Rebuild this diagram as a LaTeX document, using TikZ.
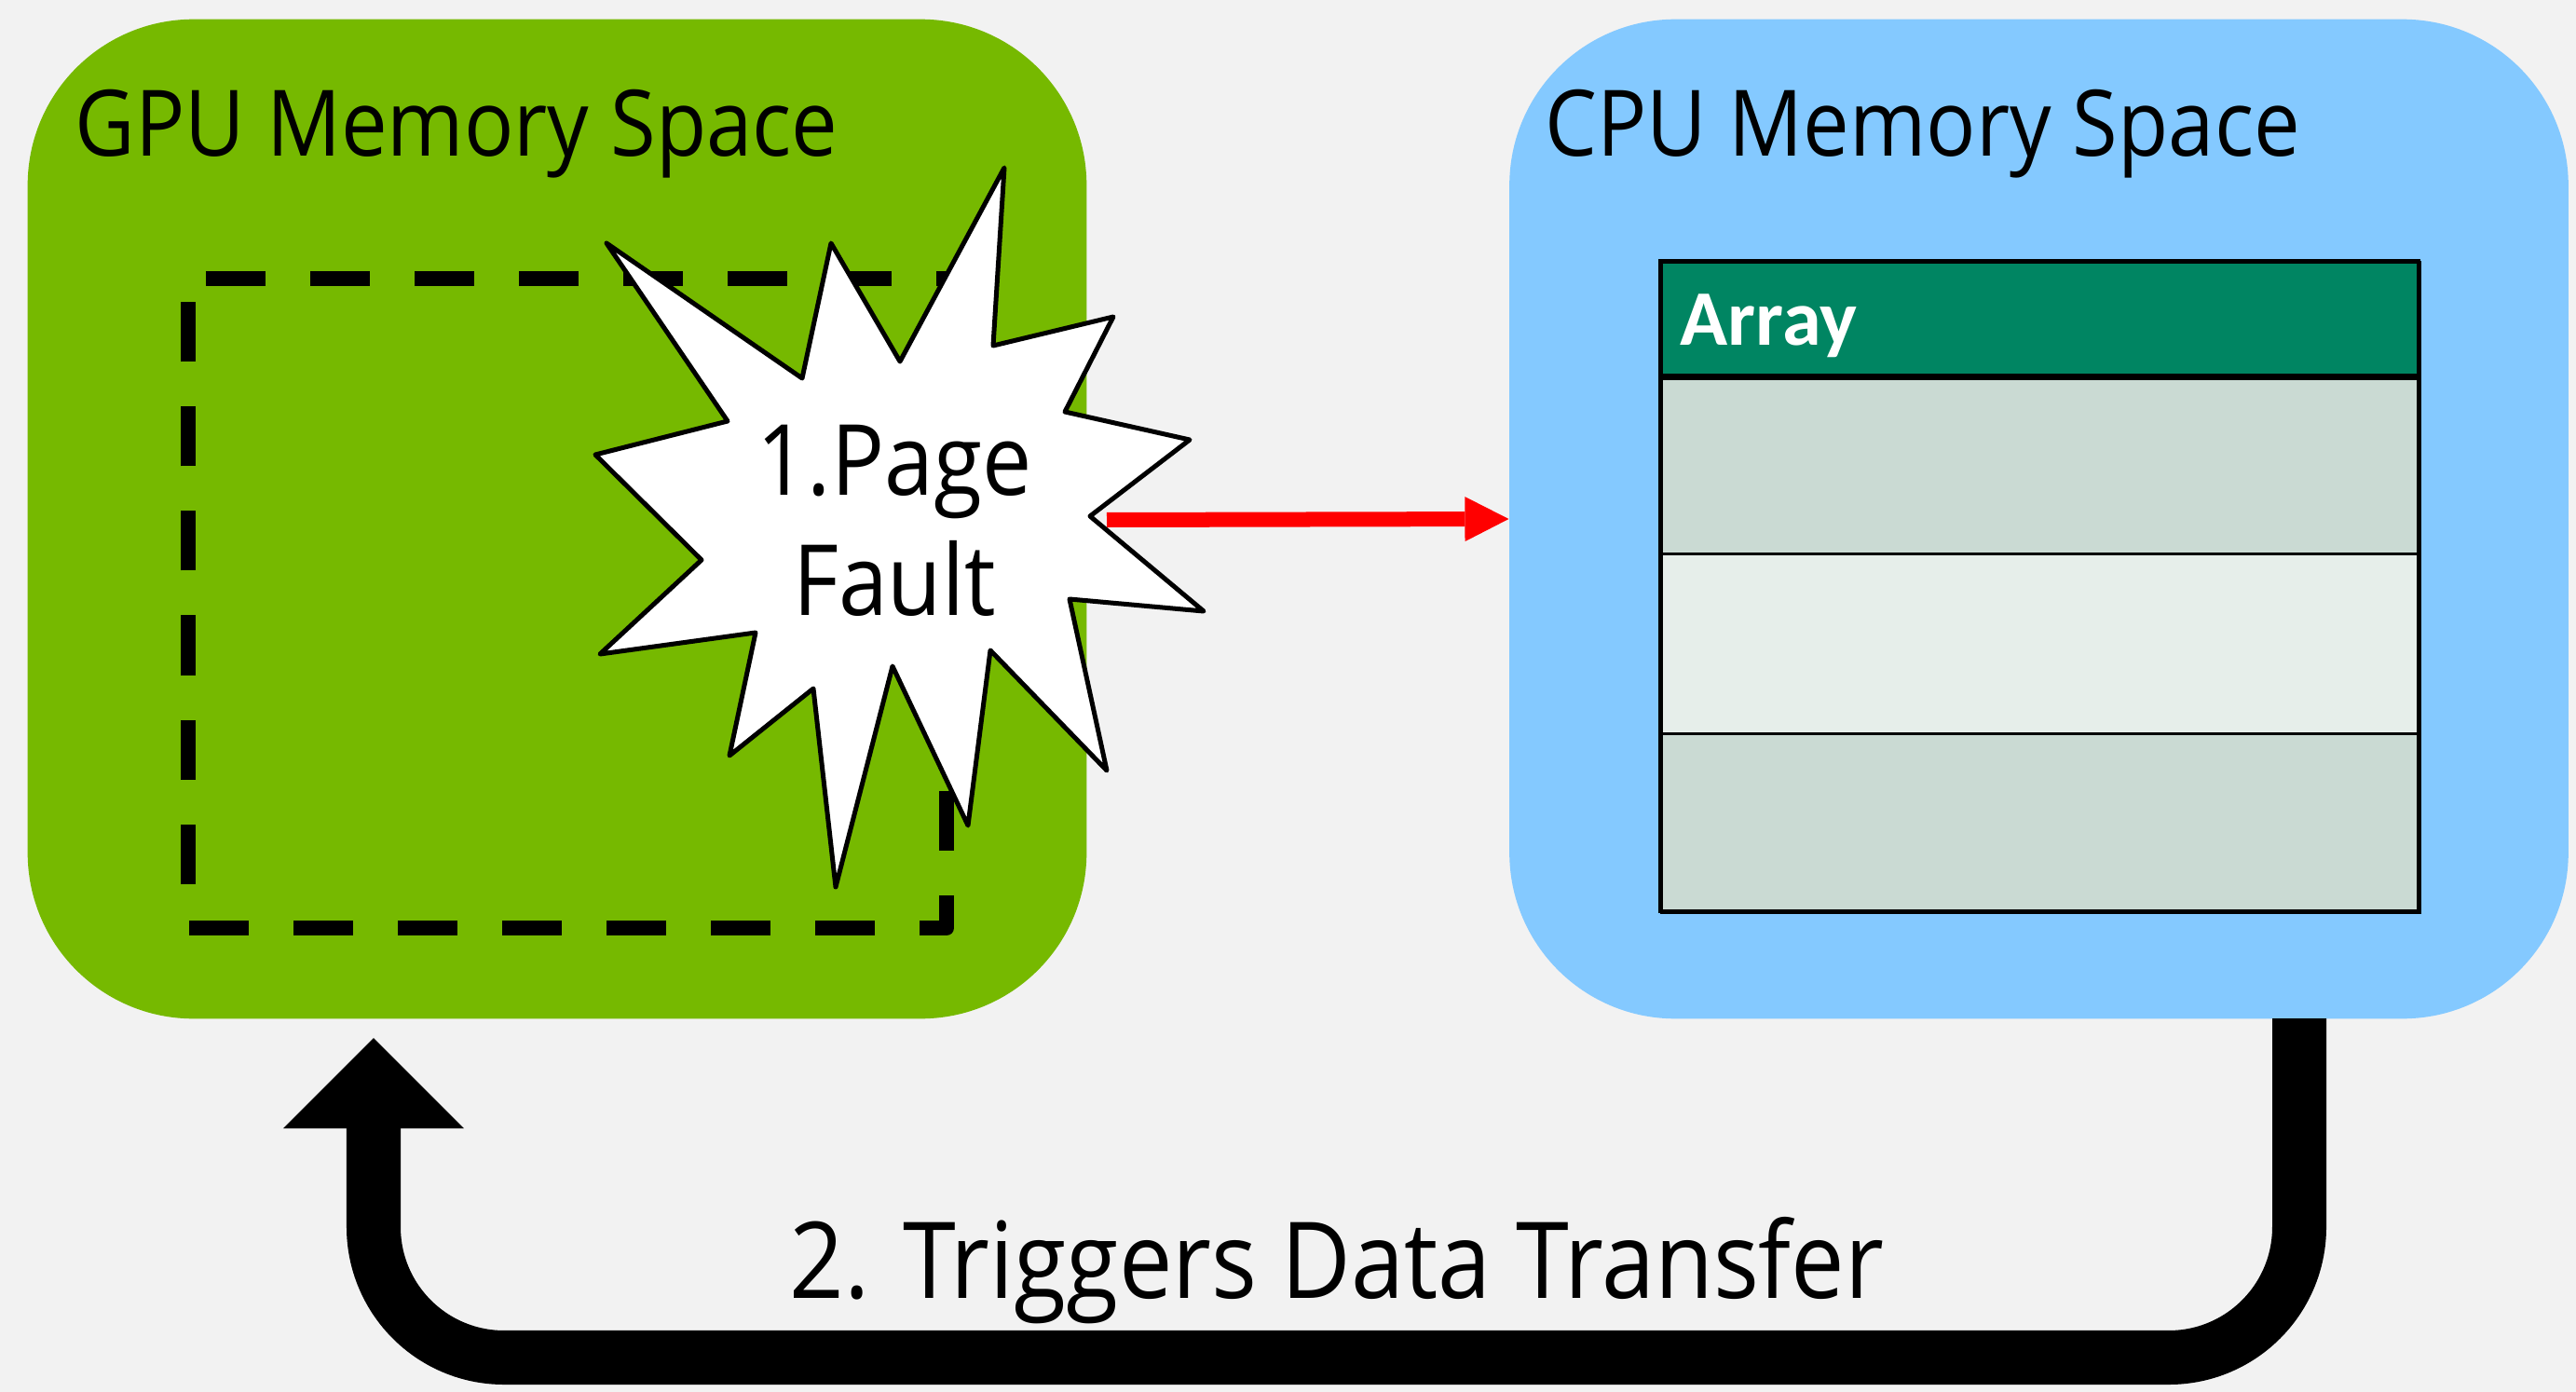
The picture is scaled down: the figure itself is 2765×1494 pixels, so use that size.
\documentclass[tikz,border=0pt]{standalone}
\usepackage{fontspec}
\setmainfont{Open Sans}[FakeStretch=0.9]
\newfontfamily\headfont{Carlito}
\usetikzlibrary{arrows.meta}

\definecolor{bgcol}{HTML}{F2F2F2}
\definecolor{gpugreen}{HTML}{76B900}
\definecolor{cpublue}{HTML}{84C9FF}
\definecolor{headgreen}{HTML}{008562}
\definecolor{rowdark}{HTML}{CADAD3}
\definecolor{rowlight}{HTML}{E6EEEA}

\tikzset{
  membox/.style={rectangle, rounded corners=1.78cm, inner sep=0pt,
    minimum width=11.36cm, minimum height=10.72cm},
  titletext/.style={anchor=base west, inner sep=0pt, font=\fontsize{28}{34}\selectfont},
  cell/.style={rectangle, draw=black, line width=0.3mm, inner sep=0pt,
    minimum width=8.14cm, anchor=north west},
  burst/.style={draw=black, fill=white, line width=0.5mm, line join=round},
  faultarrow/.style={draw=red, line width=1.6mm,
    -{Triangle[length=0.47cm, width=0.48cm, line width=0pt]}},
  transferarrow/.style={draw=black, line width=5.8mm, rounded corners=1.4cm,
    -{Triangle[length=0.97cm, width=1.94cm, line width=0pt]}},
}

\begin{document}
\begin{tikzpicture}[x=0.01cm, y=-0.01cm]
  % canvas
  \fill[bgcol] (0,0) rectangle (2765,1494);
  \useasboundingbox (0,0) rectangle (2765,1494);

  % the two memory spaces
  \node[membox, fill=gpugreen] (gpu) at (598,557) {};
  \node[membox, fill=cpublue] (cpu) at (2188.5,557) {};
  \node[titletext] (gputitle) at (80,168) {GPU Memory Space};
  \node[titletext] (cputitle) at (1658,168) {CPU Memory Space};

  % empty page frame on the GPU side
  \draw[line width=1.6mm, line join=round, dash pattern=on 0.64cm off 0.48cm,
        dash phase=0.93cm]
    (202,299) -- (1016,299) -- (1016,996) -- (202,996) -- cycle;

  % the array resident in CPU memory
  \node[cell, fill=rowdark, minimum height=1.92cm] (row1) at (1782,401) {};
  \node[cell, fill=rowlight, minimum height=1.93cm] (row2) at (1782,593) {};
  \node[cell, fill=rowdark, minimum height=1.92cm] (row3) at (1782,786) {};
  \node[cell, fill=headgreen, minimum height=1.21cm] (head) at (1782,280) {};
  \draw[line width=0.7mm] (head.south west) -- (head.south east);
  \draw[line width=0.4mm] (1782,280) rectangle (2596,978);
  \node[anchor=base west, inner sep=0pt, text=white,
        font=\headfont\bfseries\fontsize{24}{28}\selectfont] (arraylabel) at (1803,371) {Array};

  % page fault burst
  \path[burst]
    (1078,180) -- (1066,371) -- (1195,340) -- (1143,442) -- (1277,472) --
    (1170,554) -- (1292,656) -- (1148,643) -- (1188,827) -- (1063,698) --
    (1039,886) -- (958,715) -- (897,952) -- (873,739) -- (783,811) --
    (811,679) -- (644,702) -- (753,601) -- (639,488) -- (781,452) --
    (651,261) -- (861,406) -- (892,261) -- (966,388) -- cycle;
  \node[align=center, inner sep=0pt, anchor=base,
        font=\fontsize{30}{36.4}\selectfont] (fault) at (960,660) {1.Page\\Fault};

  % fault raised towards the CPU side
  \coordinate (faultstart) at (1188,558);
  \draw[faultarrow] (faultstart) -- (cpu.west);

  % migration back to the GPU
  \coordinate (loopstart) at (2468,1093);
  \coordinate (looptip) at (401,1114);
  \draw[transferarrow] (loopstart) |- (looptip |- 0,1457) -- (looptip);
  \node[anchor=base, inner sep=0pt, font=\fontsize{32.4}{38}\selectfont]
    (transfer) at (1435,1393) {2. Triggers Data Transfer};
\end{tikzpicture}
\end{document}
